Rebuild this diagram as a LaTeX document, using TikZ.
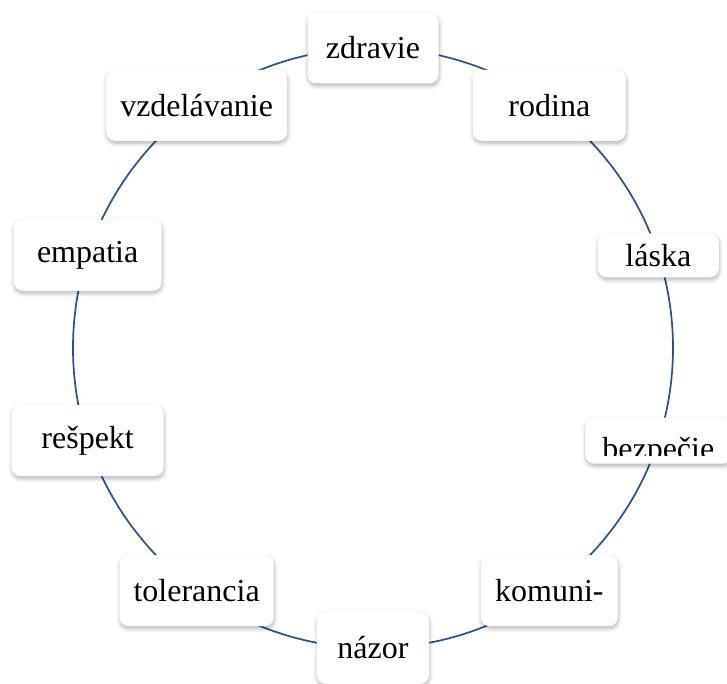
\documentclass[tikz,border=0pt]{standalone}
\usepackage{fontspec}
\setmainfont{Liberation Serif}
\usetikzlibrary{shadows.blur}

\definecolor{ringblue}{RGB}{40,80,145}
\tikzstyle{concept} = [rectangle, rounded corners=9pt, minimum height=71pt, text centered, fill=white, blur shadow={shadow xshift=0.5pt, shadow yshift=-2.5pt, shadow blur radius=4pt, shadow blur steps=6, shadow opacity=30}]
\tikzstyle{ring} = [draw=ringblue, line width=1.7pt]

\begin{document}
\begin{tikzpicture}[x=1pt, y=1pt, font=\fontsize{32}{37}\selectfont]
		\useasboundingbox (-373,-336) rectangle (354,348);
		\coordinate (center) at (0,0);
		% Ring
		\draw [ring] (center) circle (300pt);
		% Nodes
		\node (zdravie) [concept, minimum width=131pt] at (90:300) {zdravie};
		\node (rodina) [concept, minimum width=153pt] at (54:300) {rodina};
		\node (laska) [concept, minimum width=121pt, minimum height=44pt] at (18:300) {láska};
		\node (bezpecie) [concept, minimum width=146pt, minimum height=46pt] at (-18:300) {};
		\node (komuni) [concept, minimum width=137pt] at (-54:300) {komuni-};
		\node (nazor) [concept, minimum width=112pt, minimum height=72pt] at (-90:300) {názor};
		\node (tolerancia) [concept, minimum width=154pt] at (-126:300) {tolerancia};
		\node (respekt) [concept, minimum width=152pt] at (-162:300) {rešpekt};
		\node (empatia) [concept, minimum width=148pt] at (162:300) {empatia};
		\node (vzdelavanie) [concept, minimum width=181pt] at (126:300) {vzdelávanie};
		% cut-off text in the small box
		\begin{scope}
			\clip (bezpecie.north west) rectangle ([yshift=8pt]bezpecie.south east);
			\node (bezpecietext) [anchor=base, inner sep=0pt] at ([yshift=-19pt]bezpecie.center) {bezpečie};
		\end{scope}
	\end{tikzpicture}
\end{document}
